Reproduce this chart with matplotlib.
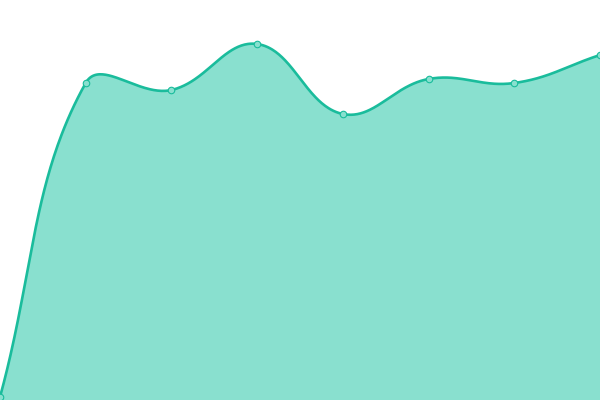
import numpy as np
import matplotlib
matplotlib.use("Agg")
import matplotlib.pyplot as plt

categories = ["A", "B", "C", "D", "E", "F", "G", "H"]
values = [3, 317, 310, 356, 286, 321, 317, 345]

LINE = "#1abc9c"
FILL = "#89e0cf"

fig = plt.figure(figsize=(6, 4), dpi=100)
ax = fig.add_axes([0, 0, 1, 1])
ax.set_xlim(0, len(categories) - 1)
ax.set_ylim(0, 400)
ax.axis("off")

x = np.arange(len(categories), dtype=float)
y = np.array(values, dtype=float)

# Chart.js-style spline (tension 0.4) computed in display space
pts = ax.transData.transform(np.column_stack([x, y]))
tension = 0.4
n = len(pts)
cp_prev = []
cp_next = []
for i in range(n):
    prev = pts[i - 1] if i > 0 else pts[i]
    cur = pts[i]
    nxt = pts[i + 1] if i < n - 1 else pts[i]
    d01 = np.hypot(*(cur - prev))
    d12 = np.hypot(*(nxt - cur))
    s = d01 + d12
    fa = tension * d01 / s if s else 0
    fb = tension * d12 / s if s else 0
    cp_prev.append(cur - fa * (nxt - prev))
    cp_next.append(cur + fb * (nxt - prev))

t = np.linspace(0, 1, 80)[:, None]
curve = []
for i in range(n - 1):
    p0, p1, p2, p3 = pts[i], cp_next[i], cp_prev[i + 1], pts[i + 1]
    seg = ((1 - t) ** 3) * p0 + 3 * ((1 - t) ** 2) * t * p1 + 3 * (1 - t) * t ** 2 * p2 + t ** 3 * p3
    curve.append(seg if i == 0 else seg[1:])
curve = np.vstack(curve)
cdata = ax.transData.inverted().transform(curve)

ax.fill_between(cdata[:, 0], cdata[:, 1], 0, color=FILL, linewidth=0, zorder=1)
ax.plot(cdata[:, 0], cdata[:, 1], color=LINE, linewidth=1.9, zorder=2,
        solid_capstyle="round", clip_on=False)
ax.scatter(x, y, s=22, facecolor=FILL, edgecolor=LINE, linewidth=0.8,
           zorder=3, clip_on=False)

fig.savefig("out.png", dpi=100)
